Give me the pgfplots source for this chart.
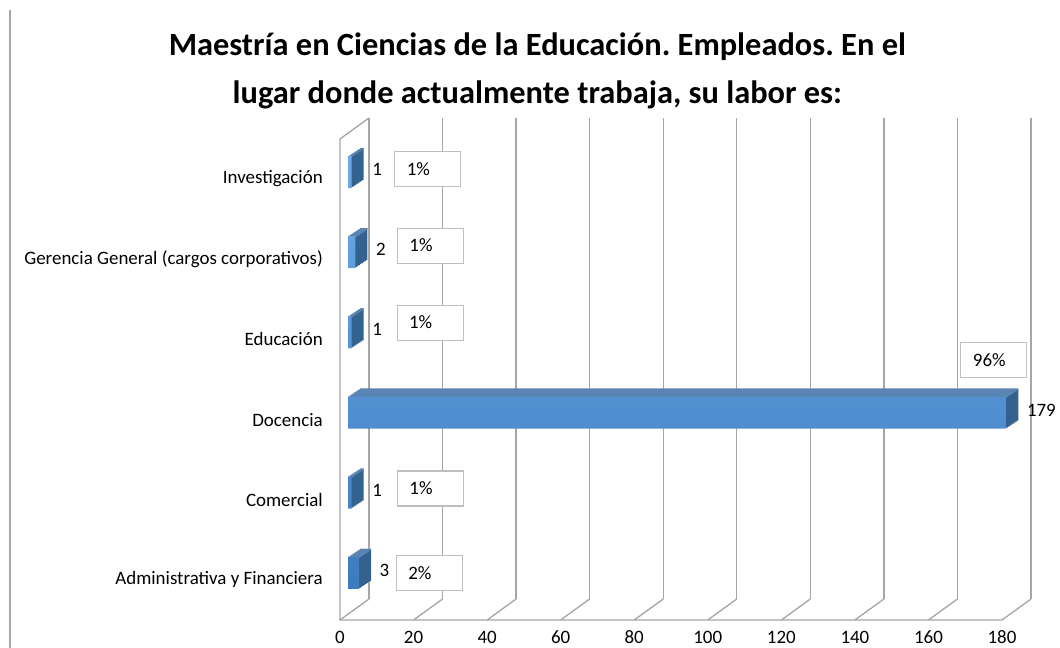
\documentclass[border=0pt]{standalone}
\usepackage{pgfplots}
\usepackage{pgfplotstable}
\pgfplotsset{compat=1.18}
\usepackage{fontspec}
\setmainfont{Carlito}
\frenchspacing

\definecolor{gridcol}{HTML}{A6A6A6}
\definecolor{fronttop}{HTML}{6EABE6}
\definecolor{frontbot}{HTML}{3C7BC0}
\definecolor{sidecol}{HTML}{33628F}
\definecolor{topcol}{HTML}{5A84B2}
\definecolor{boxcol}{HTML}{BFBFBF}

\pgfplotstableread{
v y
3 0
1 1
179 2
1 3
2 4
1 5
}\bardata

\begin{document}
\begin{tikzpicture}
\path[use as bounding box] (0,0) rectangle (795pt,486pt);
\draw[gridcol, line width=0.8pt] (7.5pt,478.5pt) -- (7.5pt,0);
\node[font=\bfseries\fontsize{24.3}{36}\selectfont, align=center] at (403pt,432.75pt)
  {Maestría en Ciencias de la Educación. Empleados. En el\\lugar donde actualmente trabaja, su labor es:};

\begin{axis}[
    at={(255pt,21pt)}, anchor=south west,
    scale only axis, width=496.5pt, height=360.75pt,
    xmin=0, xmax=180, ymin=-0.5, ymax=5.5,
    axis line style={draw=none},
    major tick length=0pt,
    xtick={0,20,...,180},
    ytick={0,1,2,3,4,5},
    yticklabels={Administrativa y Financiera, Comercial, Docencia, Educación,
      Gerencia General (cargos corporativos), Investigación},
    tick label style={font=\fontsize{14.2}{17}\selectfont},
    x tick label style={anchor=center, yshift=-13pt},
    y tick label style={xshift=-9.4pt},
    /pgf/number format/assume math mode=true,
    bar width=24pt,
    clip=false,
]
% walls and gridlines
\pgfplotsinvokeforeach{0,20,...,180}{
  \draw[gridcol, line width=1pt] ([shift={(21.75pt,15.75pt)}]axis cs:#1,-0.5)
     -- ([shift={(21.75pt,15.75pt)}]axis cs:#1,5.5);
  \draw[gridcol, line width=1pt] (axis cs:#1,-0.5)
     -- ([shift={(21.75pt,15.75pt)}]axis cs:#1,-0.5);
}
\draw[gridcol, line width=1pt] (axis cs:180,-0.5) -- (axis cs:0,-0.5) -- (axis cs:0,5.5)
   -- ([shift={(21.75pt,15.75pt)}]axis cs:0,5.5);

% bar depth (side faces)
\pgfplotsinvokeforeach{8,7,...,1}{
  \addplot[xbar, bar shift=0pt, fill=sidecol, draw=none,
    xshift=6pt+1.125pt*#1, yshift=5.25pt+0.75pt*#1] table[x=v,y=y]{\bardata};
}
% top faces
\pgfplotsinvokeforeach{8,7,...,0}{
  \addplot[xbar, bar shift=11.4pt, bar width=1.2pt, fill=topcol, draw=none,
    xshift=6pt+1.125pt*#1, yshift=5.25pt+0.75pt*#1] table[x=v,y=y]{\bardata};
}
% front faces with values
\addplot[xbar, bar shift=0pt, draw=none, top color=fronttop, bottom color=frontbot,
    xshift=6pt, yshift=5.25pt,
    nodes near coords,
    every node near coord/.append style={font=\fontsize{14.2}{17}\selectfont,
      anchor=west, xshift=12pt, yshift=2pt, text=black}]
  table[x=v,y=y]{\bardata};

% percentage labels
\addplot[draw=none, no markers, nodes near coords, point meta=explicit symbolic,
    every node near coord/.append style={font=\fontsize{14.2}{17}\selectfont,
      anchor=center, draw=boxcol, fill=white, text=black, line width=0.8pt,
      text width=31.5pt, align=left, inner xsep=9pt, minimum height=26.25pt}]
  coordinates {
    (24.3,0.09) [2\%]
    (24.6,1.14) [1\%]
    (177.8,2.74) [96\%]
    (24.5,3.21) [1\%]
    (24.6,4.17) [1\%]
    (23.9,5.12) [1\%]
  };
\end{axis}
\end{tikzpicture}
\end{document}
